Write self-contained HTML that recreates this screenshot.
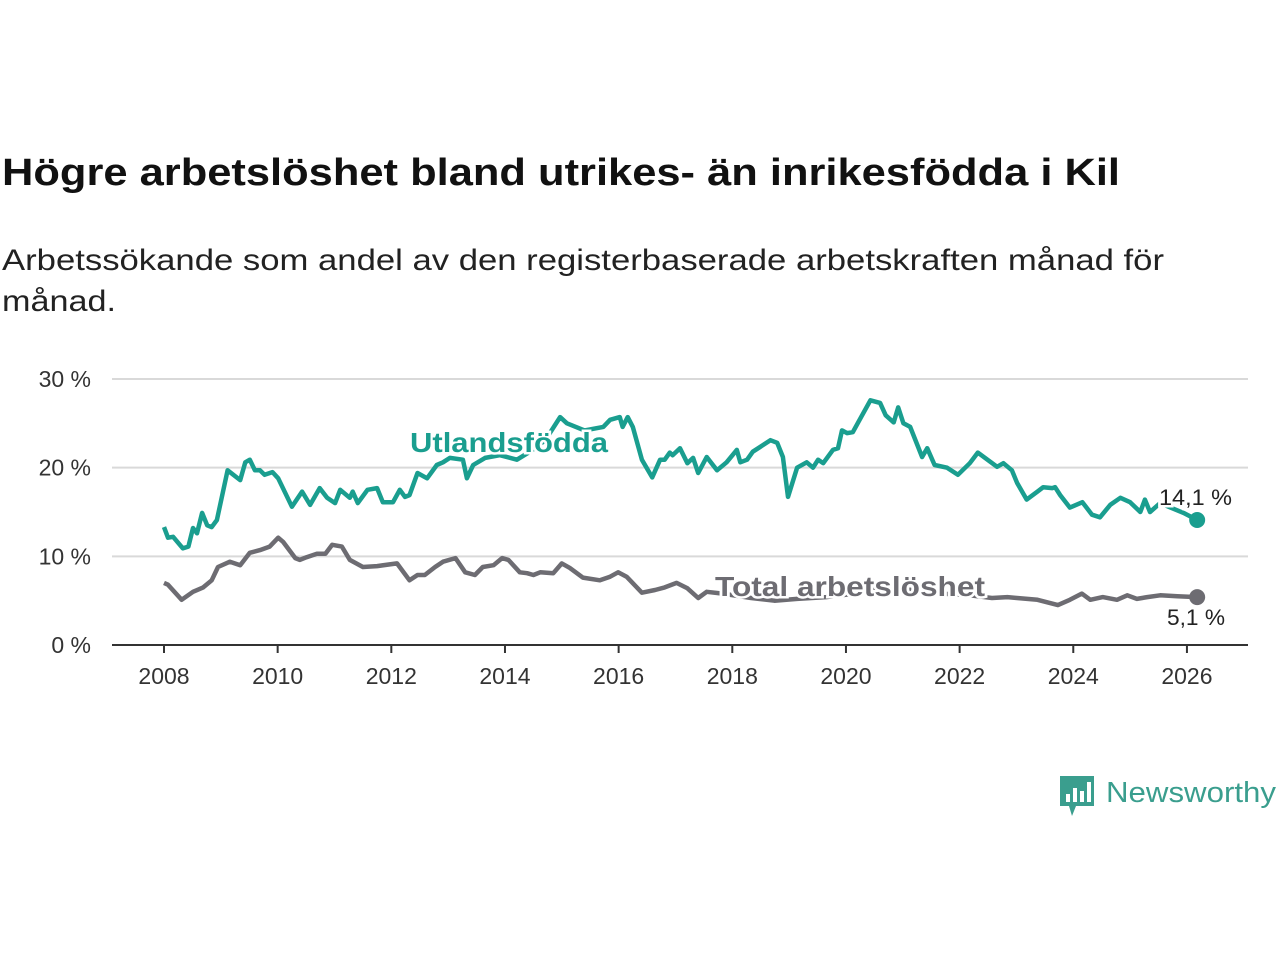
<!DOCTYPE html>
<html><head><meta charset="utf-8"><style>
html,body{margin:0;padding:0;background:#fff;width:1280px;height:960px;overflow:hidden}
svg{display:block;font-family:"Liberation Sans",sans-serif}
</style></head><body>
<svg id="chart" width="1280" height="960">
<text x="2" y="185" font-size="38" font-weight="bold" fill="#111" textLength="1118" lengthAdjust="spacingAndGlyphs">Högre arbetslöshet bland utrikes- än inrikesfödda i Kil</text>
<text x="2" y="270" font-size="30" fill="#222" textLength="1162" lengthAdjust="spacingAndGlyphs">Arbetssökande som andel av den registerbaserade arbetskraften månad för</text>
<text x="2" y="311" font-size="30" fill="#222" textLength="114" lengthAdjust="spacingAndGlyphs">månad.</text>
<g id="axes"></g>
<g id="series"></g>
<g id="labels"></g>
<g>
<path d="M1060 776 h34 v30 h-18 l-4 10 l-3 -10 h-9 z" fill="#3a9e8e"/>
<rect x="1066" y="794" width="4" height="8" fill="#fff"/><rect x="1073" y="788" width="4" height="14" fill="#fff"/><rect x="1080" y="791" width="4" height="11" fill="#fff"/><rect x="1087" y="782" width="4" height="20" fill="#fff"/>
<text x="1106" y="802" font-size="29" fill="#3a9e8e" textLength="170" lengthAdjust="spacingAndGlyphs">Newsworthy</text>
</g>
</svg>
<script>
const yTicks=[0,10,20,30];
const xTicks=[2008,2010,2012,2014,2016,2018,2020,2022,2024,2026];
const utlT=[2008.0,2008.07,2008.16,2008.33,2008.43,2008.51,2008.58,2008.67,2008.76,2008.84,2008.93,2009.12,2009.34,2009.43,2009.51,2009.60,2009.69,2009.77,2009.91,2010.01,2010.25,2010.43,2010.57,2010.74,2010.87,2011.01,2011.10,2011.27,2011.32,2011.41,2011.58,2011.75,2011.85,2012.03,2012.15,2012.24,2012.32,2012.46,2012.63,2012.80,2012.91,2013.03,2013.26,2013.33,2013.44,2013.65,2013.91,2014.21,2014.44,2014.71,2014.97,2015.09,2015.40,2015.73,2015.85,2016.02,2016.07,2016.16,2016.25,2016.41,2016.59,2016.73,2016.81,2016.90,2016.95,2017.08,2017.21,2017.31,2017.40,2017.55,2017.73,2017.90,2018.08,2018.14,2018.26,2018.36,2018.48,2018.67,2018.79,2018.89,2018.98,2019.14,2019.31,2019.42,2019.51,2019.60,2019.77,2019.86,2019.93,2020.02,2020.12,2020.24,2020.43,2020.60,2020.70,2020.84,2020.92,2021.01,2021.13,2021.34,2021.43,2021.56,2021.78,2021.97,2022.18,2022.32,2022.66,2022.77,2022.92,2023.01,2023.18,2023.37,2023.47,2023.63,2023.68,2023.77,2023.94,2024.16,2024.33,2024.47,2024.65,2024.83,2025.00,2025.18,2025.26,2025.35,2025.53,2025.71,2025.94,2026.18];
const utlV=[13.3,12.1,12.2,10.9,11.1,13.2,12.6,14.9,13.5,13.3,14.1,19.7,18.6,20.6,20.9,19.7,19.7,19.2,19.5,18.8,15.6,17.3,15.8,17.7,16.6,16.0,17.5,16.6,17.3,16.0,17.5,17.7,16.1,16.1,17.5,16.7,16.9,19.4,18.8,20.3,20.6,21.1,20.9,18.8,20.3,21.1,21.4,20.9,21.8,23.1,25.7,25.0,24.2,24.6,25.4,25.7,24.6,25.7,24.6,20.9,18.9,20.9,20.9,21.7,21.4,22.2,20.5,21.1,19.4,21.2,19.7,20.6,22.0,20.6,20.9,21.8,22.3,23.1,22.8,21.2,16.7,20.0,20.6,20.0,20.9,20.5,22.0,22.2,24.2,23.9,24.0,25.4,27.6,27.3,25.9,25.1,26.8,25.0,24.6,21.2,22.2,20.3,20.0,19.2,20.5,21.7,20.1,20.5,19.7,18.3,16.4,17.3,17.8,17.7,17.8,16.9,15.5,16.1,14.7,14.4,15.8,16.6,16.1,15.0,16.4,15.0,16.0,15.5,14.9,14.1];
const totT=[2008.0,2008.07,2008.31,2008.51,2008.69,2008.84,2008.95,2009.16,2009.34,2009.51,2009.69,2009.86,2010.01,2010.10,2010.31,2010.39,2010.51,2010.69,2010.84,2010.96,2011.13,2011.27,2011.50,2011.75,2012.10,2012.32,2012.46,2012.59,2012.77,2012.91,2013.13,2013.30,2013.47,2013.61,2013.80,2013.95,2014.06,2014.26,2014.39,2014.50,2014.62,2014.85,2015.00,2015.14,2015.37,2015.67,2015.85,2015.99,2016.14,2016.41,2016.64,2016.81,2017.02,2017.21,2017.40,2017.55,2017.83,2018.33,2018.74,2019.14,2019.65,2020.15,2020.66,2021.17,2021.67,2022.18,2022.57,2022.84,2023.01,2023.37,2023.73,2023.94,2024.15,2024.30,2024.52,2024.77,2024.95,2025.12,2025.30,2025.53,2025.83,2026.18];
const totV=[7.0,6.8,5.1,6.0,6.5,7.3,8.8,9.4,9.0,10.4,10.7,11.1,12.1,11.6,9.8,9.6,9.9,10.3,10.3,11.3,11.1,9.6,8.8,8.9,9.2,7.3,7.9,7.9,8.8,9.4,9.8,8.2,7.9,8.8,9.0,9.8,9.6,8.2,8.1,7.9,8.2,8.1,9.2,8.7,7.6,7.3,7.7,8.2,7.7,5.9,6.2,6.5,7.0,6.4,5.3,6.0,5.8,5.3,5.0,5.2,5.4,5.8,6.5,6.2,5.8,5.6,5.3,5.4,5.3,5.1,4.5,5.1,5.8,5.1,5.4,5.1,5.6,5.2,5.4,5.6,5.5,5.4];
const X=t=>164+(t-2008)*56.83;
const Y=v=>645-v*8.867;
const NS='http://www.w3.org/2000/svg';
function mk(tag,attrs,parent,txt){const e=document.createElementNS(NS,tag);for(const k in attrs)e.setAttribute(k,attrs[k]);if(txt!==undefined)e.textContent=txt;parent.appendChild(e);return e;}
const axes=document.getElementById('axes');
yTicks.forEach(v=>{
 if(v>0){const g=mk('line',{x1:112,x2:1248,y1:Y(v),y2:Y(v),stroke:'#d9d9d9','stroke-width':2},axes);
 
 }
 const t=mk('text',{x:91,y:Y(v)+8,'font-size':23,fill:'#333','text-anchor':'end'},axes,v+' %');
 
 
});
const ax=mk('line',{x1:112,x2:1248,y1:645,y2:645,stroke:'#333','stroke-width':2},axes);


xTicks.forEach(yr=>{
 const tk=mk('line',{x1:X(yr),x2:X(yr),y1:645,y2:653,stroke:'#333','stroke-width':2},axes);
 
 
 const t=mk('text',{x:X(yr),y:684,'font-size':23,fill:'#333','text-anchor':'middle'},axes,String(yr));
 
 
});
const ser=document.getElementById('series');
function line(T,V,color,name){
 const d=T.map((t,i)=>(i?'L':'M')+X(t).toFixed(1)+' '+Y(V[i]).toFixed(1)).join(' ');
 const p=mk('path',{d:d,fill:'none',stroke:color,'stroke-width':4.5,'stroke-linejoin':'round'},ser);
 
 
 const n=T.length-1;
 const c=mk('circle',{cx:X(T[n]),cy:Y(V[n]),r:8,fill:color},ser);
 
 
}
line(totT,totV,'#6d6c72','total');
line(utlT,utlV,'#1a9e8f','utlandsfodda');
const lab=document.getElementById('labels');
function label(x,y,size,weight,color,txt,name,len){
 const a={x:x,y:y,'font-size':size,'font-weight':weight,fill:color,stroke:'#fff','stroke-width':5,'paint-order':'stroke'};
 if(len){a.textLength=len;a.lengthAdjust='spacingAndGlyphs';}
 const t=mk('text',a,lab,txt);
 
 
}
label(410,452,28,'bold','#1a9e8f','Utlandsfödda','series-label-utlandsfodda',198);
label(715,596,28,'bold','#6d6c72','Total arbetslöshet','series-label-total',270);
label(1159,505,22,'normal','#222','14,1 %','end-value-utlandsfodda',73);
label(1167,625,22,'normal','#222','5,1 %','end-value-total',58);
</script>
</body></html>
